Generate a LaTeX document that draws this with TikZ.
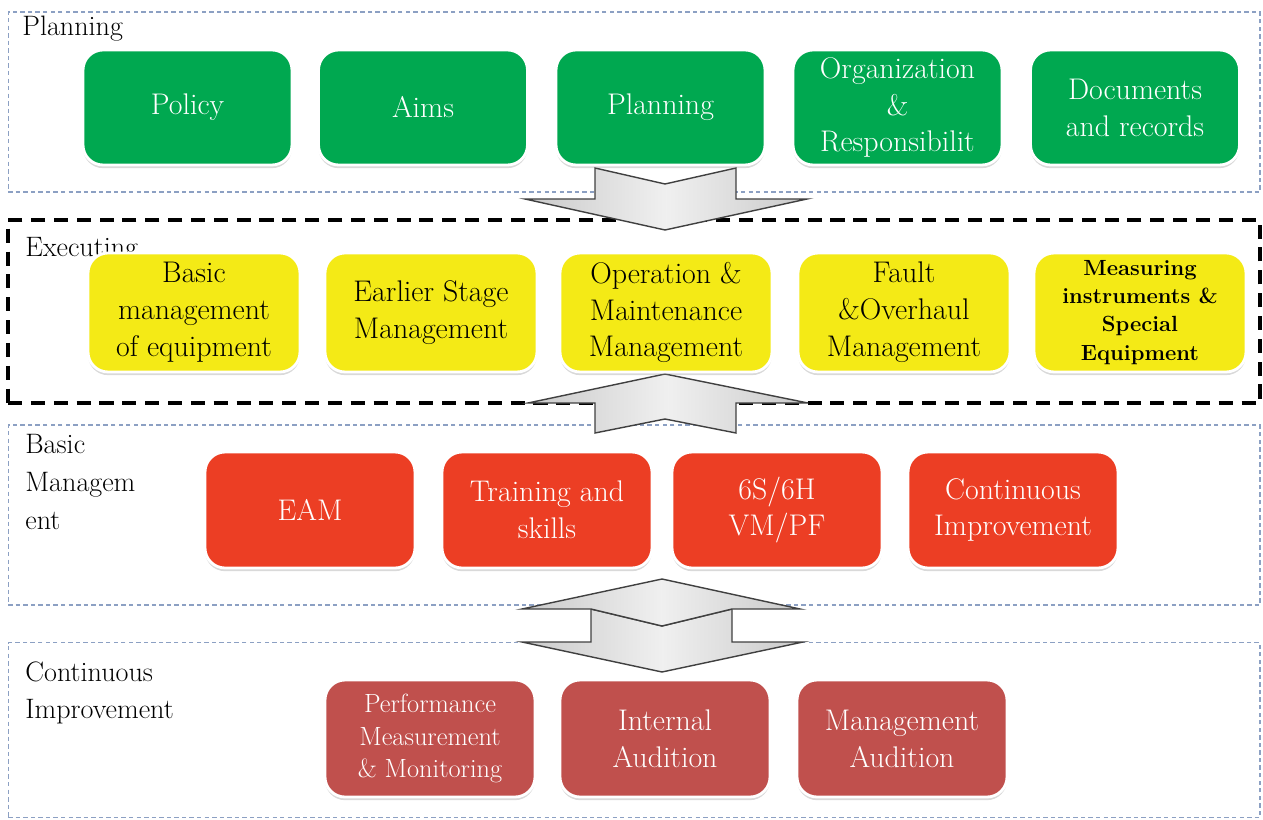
\documentclass[tikz,border=0pt]{standalone}
\usetikzlibrary{shadows}
\definecolor{cgreen}{RGB}{0,168,80}
\definecolor{cyellow}{RGB}{244,234,22}
\definecolor{cred}{RGB}{236,62,36}
\definecolor{cdred}{RGB}{192,80,77}
\definecolor{frameblue}{RGB}{140,160,195}
\tikzset{
  box/.style={rounded corners=0.4cm, draw=white, line width=1.6pt, align=center, inner sep=2pt,
    drop shadow={shadow xshift=0pt, shadow yshift=-1.8pt, opacity=0.3}},
  gbox/.style={box, fill=cgreen, text=white, minimum width=4.18cm, minimum height=2.3cm,
    font=\fontsize{17}{21}\selectfont},
  ybox/.style={box, fill=cyellow, text=black, minimum width=4.24cm, minimum height=2.38cm,
    font=\fontsize{17}{21}\selectfont},
  rbox/.style={box, fill=cred, text=white, minimum width=4.2cm, minimum height=2.32cm,
    font=\fontsize{17}{21}\selectfont},
  dbox/.style={box, fill=cdred, text=white, minimum width=4.2cm, minimum height=2.34cm,
    font=\fontsize{17}{21}\selectfont},
  lframe/.style={draw=frameblue, line width=0.7pt, dash pattern=on 2.5pt off 1.8pt, inner sep=0pt,
    minimum width=25.04cm},
  bframe/.style={draw=black, line width=2pt, dash pattern=on 8pt off 5pt, inner sep=0pt,
    minimum width=25.04cm},
  seclabel/.style={anchor=north west, inner sep=0pt, align=left,
    font=\fontsize{16}{21.5}\selectfont},
  bigarrow/.style={draw=black!75, line width=0.8pt, left color=gray!42, right color=gray!42, middle color=gray!12},
}
\begin{document}
\begin{tikzpicture}[x=0.02cm,y=-0.02cm]
\useasboundingbox (0,0) rectangle (1263,820);
% frames
\node[lframe, minimum height=3.6cm] (fplan) at (634,102) {};
\node[bframe, minimum height=3.66cm] (fexec) at (634,311.5) {};
\node[lframe, minimum height=3.6cm] (fbasic) at (634,515) {};
\node[lframe, minimum height=3.5cm] (fci) at (634,730) {};
% labels
\node[seclabel] (lplan) at (22,16) {Planning};
\node[seclabel] (lexec) at (25,237) {Executing};
\node[seclabel] (lbasic) at (25,434) {Basic\\Managem\\ent};
\node[seclabel] (lci) at (25,661) {Continuous\\Improvement};
% arrows
\path[bigarrow] (595,168) -- (665,184) -- (736,168) -- (736,199) -- (807,199) -- (665,230) -- (525,199) -- (595,199) -- cycle;
\path[bigarrow] (665,374) -- (808,403) -- (736,403) -- (736,433) -- (665,419) -- (595,433) -- (595,403) -- (528,403) -- cycle;
\path[bigarrow] (591,609) -- (662,626) -- (732,609) -- (732,642) -- (803,642) -- (662,672) -- (522,642) -- (591,642) -- cycle;
\path[bigarrow] (662,579) -- (800,609) -- (732,609) -- (662,626) -- (591,609) -- (522,609) -- cycle;
% planning
\node[gbox] (policy) at (187.5,107.5) {Policy};
\node[gbox] (aims) at (423,107.5) {Aims};
\node[gbox] (planning) at (660.5,107.5) {Planning};
\node[gbox] (org) at (897.5,107.5) {Organization\\\&\\Responsibilit};
\node[gbox] (docs) at (1135,107.5) {Documents\\and records};
% executing
\node[ybox] (basicm) at (194,312.5) {Basic\\management\\of equipment};
\node[ybox] (earlier) at (431,312.5) {Earlier Stage\\Management};
\node[ybox] (opm) at (666,312.5) {Operation \&\\Maintenance\\Management};
\node[ybox] (fault) at (904,312.5) {Fault\\\&Overhaul\\Management};
\node[ybox, font=\bfseries\fontsize{12.5}{16}\selectfont] (meas) at (1140,312.5) {Measuring\\instruments \&\\Special\\Equipment};
% basic management
\node[rbox] (eam) at (310,510) {EAM};
\node[rbox] (train) at (547,510) {Training and\\skills};
\node[rbox] (six) at (777,510) {6S/6H\\VM/PF};
\node[rbox] (cont) at (1013,510) {Continuous\\Improvement};
% continuous improvement
\node[dbox, font=\fontsize{15}{18.5}\selectfont] (perf) at (430,738.5) {Performance\\Measurement\\\& Monitoring};
\node[dbox] (internal) at (665,738.5) {Internal\\Audition};
\node[dbox] (mgmt) at (902,738.5) {Management\\Audition};
\end{tikzpicture}
\end{document}
